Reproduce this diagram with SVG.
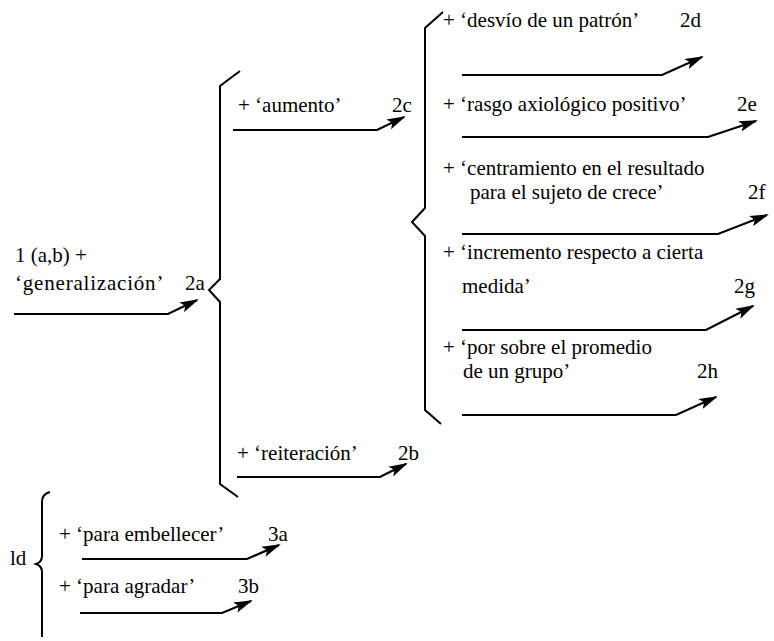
<svg xmlns="http://www.w3.org/2000/svg" width="774" height="641" viewBox="0 0 774 641">
<style>
text{font-family:'Liberation Serif','Times New Roman','DejaVu Serif',serif;font-size:21px;fill:#000}
.br{fill:none;stroke:#000;stroke-width:2;stroke-linejoin:miter}
.ar{fill:none;stroke:#000;stroke-width:2.2;marker-end:url(#ah)}
</style>
<defs>
<marker id="ah" markerUnits="userSpaceOnUse" markerWidth="20" markerHeight="12" refX="17" refY="5.5" orient="auto" viewBox="0 0 20 11">
<path d="M0,0 L19,5.5 L0,11 L4,5.5 z" fill="#000"/>
</marker>
</defs>
<g id="brackets">
<polyline class="br" points="240,71 220,86 220,279 209,290 220,302 220,484 238,497"/>
<polyline class="br" points="443,12 425,28 425,208 412,222 425,236 425,410 441,424"/>
<path class="br" d="M50,492 Q42,494 42,502 L42,556 Q42,562 36,564 Q42,566 42,572 L42,637"/>
</g>
<g id="n1"><text x="15" y="262">1 (a,b) +</text><text x="15" y="290" letter-spacing="0.8">‘generalización’</text><text x="185" y="290">2a</text></g>
<g id="n2c"><text x="238" y="112">+ ‘aumento’</text><text x="392" y="112">2c</text></g>
<g id="n2d"><text x="443" y="27">+ ‘desvío de un patrón’</text><text x="680" y="27">2d</text></g>
<g id="n2e"><text x="443" y="111">+ ‘rasgo axiológico positivo’</text><text x="737" y="111">2e</text></g>
<g id="n2f"><text x="443" y="175">+ ‘centramiento en el resultado</text><text x="470" y="199">para el sujeto de crece’</text><text x="748" y="199">2f</text></g>
<g id="n2g"><text x="443" y="259">+ ‘incremento respecto a cierta</text><text x="462" y="293">medida’</text><text x="734" y="293">2g</text></g>
<g id="n2h"><text x="443" y="354">+ ‘por sobre el promedio</text><text x="463" y="378">de un grupo’</text><text x="697" y="378">2h</text></g>
<g id="n2b"><text x="237" y="460">+ ‘reiteración’</text><text x="398" y="460">2b</text></g>
<g id="nld"><text x="10" y="565">ld</text></g>
<g id="n3a"><text x="59" y="541">+ ‘para embellecer’</text><text x="268" y="541">3a</text></g>
<g id="n3b"><text x="59" y="593">+ ‘para agradar’</text><text x="238" y="593">3b</text></g>
<g id="connectors">
<polyline class="ar" points="14,314 168,314 197,300"/>
<polyline class="ar" points="233,130 377,130 404,117"/>
<polyline class="ar" points="462,75 662,75 702,57"/>
<polyline class="ar" points="462,137 708,137 756,121"/>
<polyline class="ar" points="462,234 718,234 767,215"/>
<polyline class="ar" points="462,330 706,330 753,306"/>
<polyline class="ar" points="462,415 676,415 716,397"/>
<polyline class="ar" points="237,477 380,477 406,464"/>
<polyline class="ar" points="82,559 247,559 279,545"/>
<polyline class="ar" points="80,613 222,613 251,601"/>
</g>
</svg>
